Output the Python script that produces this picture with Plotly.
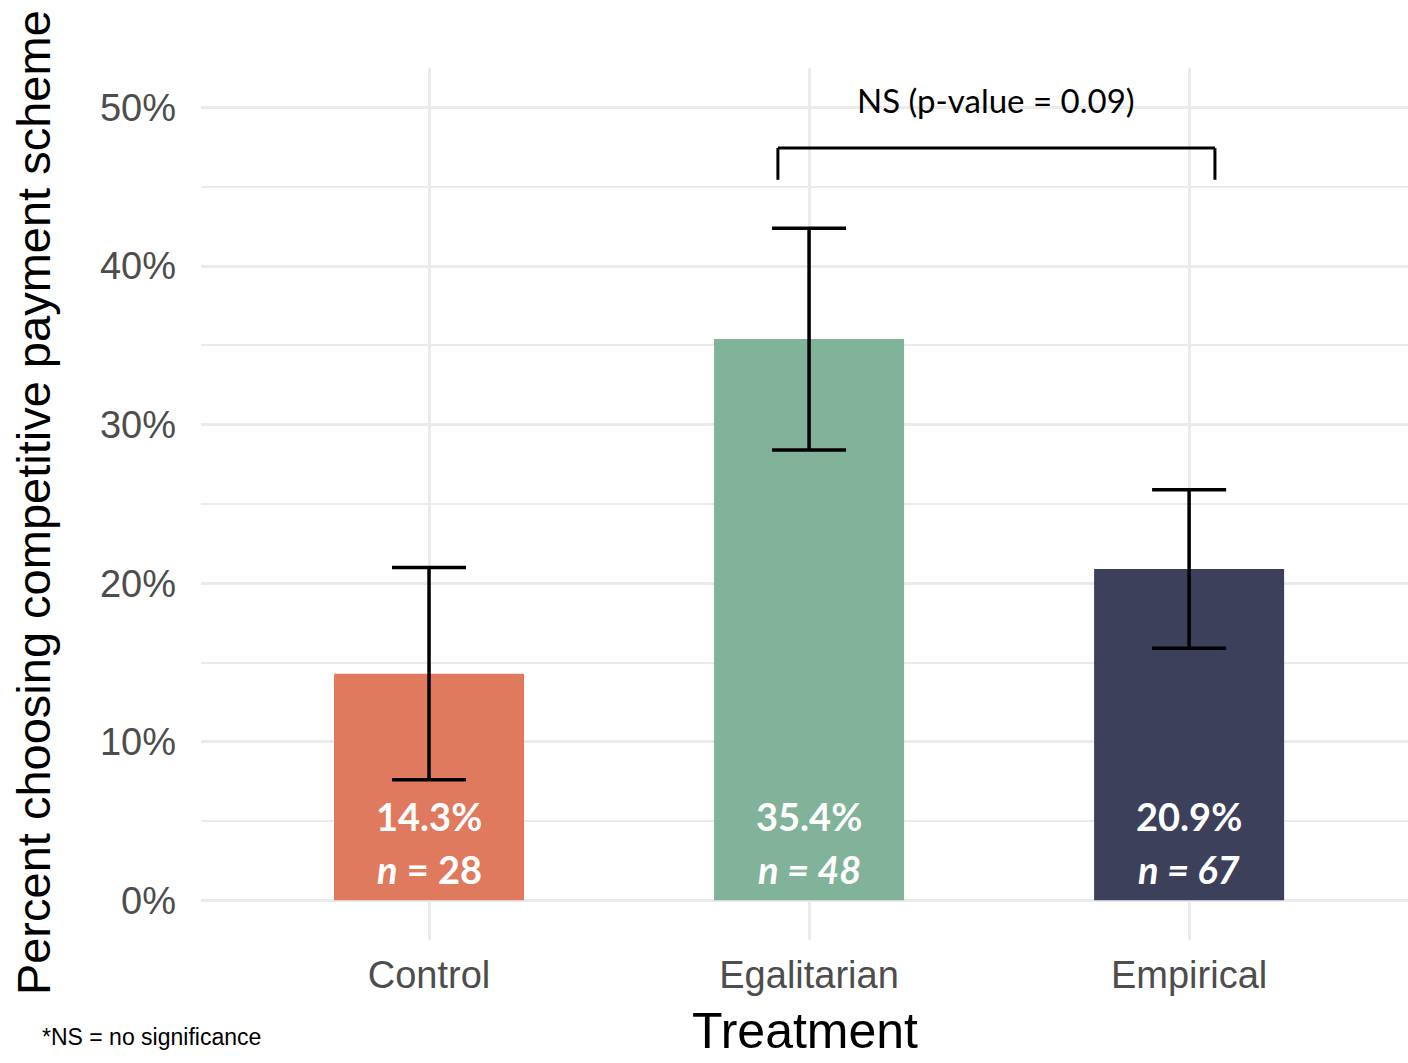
import plotly.graph_objects as go

# Share of participants choosing the competitive payment scheme, by treatment
treatments = ["Control", "Egalitarian", "Empirical"]
pct_competitive = [14.3, 35.4, 20.9]
ci_upper = [21.0, 42.4, 25.9]
ci_lower = [7.6, 28.4, 15.9]
n_obs = [28, 48, 67]
bar_colors = ["#E07A5F", "#81B29A", "#3D405B"]

# Bracket comparing Egalitarian vs Empirical
bracket_from, bracket_to = 0.918, 2.068
bracket_top, bracket_foot = 47.45, 45.45
bracket_label = "NS (p-value = 0.09)"

err_plus = [u - v for u, v in zip(ci_upper, pct_competitive)]
err_minus = [v - l for v, l in zip(pct_competitive, ci_lower)]

fig = go.Figure()
fig.add_trace(go.Bar(
    x=treatments,
    y=pct_competitive,
    width=0.5,
    marker=dict(color=bar_colors, line=dict(width=0)),
    error_y=dict(
        type="data",
        symmetric=False,
        array=err_plus,
        arrayminus=err_minus,
        color="black",
        thickness=3.5,
        width=37,
    ),
    showlegend=False,
    hoverinfo="skip",
))

label_font = dict(family="Lato, 'Open Sans', sans-serif", size=38, color="white")
for i, (cat, v, n) in enumerate(zip(treatments, pct_competitive, n_obs)):
    fig.add_annotation(x=cat, y=5.3, xref="x", yref="y",
                       text=f"<b>{v:.1f}%</b>", showarrow=False,
                       font=label_font, xanchor="center", yanchor="middle")
    n_text = f"<b><i>n</i> = {n}</b>" if i == 0 else f"<b><i>n = {n}</i></b>"
    fig.add_annotation(x=cat, y=1.95, xref="x", yref="y",
                       text=n_text, showarrow=False,
                       font=label_font, xanchor="center", yanchor="middle")

# Significance bracket
for x0, y0, x1, y1 in [
    (bracket_from, bracket_foot, bracket_from, bracket_top),
    (bracket_from, bracket_top, bracket_to, bracket_top),
    (bracket_to, bracket_top, bracket_to, bracket_foot),
]:
    fig.add_shape(type="line", xref="x", yref="y", x0=x0, y0=y0, x1=x1, y1=y1,
                  line=dict(color="black", width=3))
fig.add_annotation(x=(bracket_from + bracket_to) / 2, y=50.5, xref="x", yref="y",
                   text=bracket_label, showarrow=False,
                   font=dict(family="Lato, 'Open Sans', sans-serif", size=33, color="black"),
                   xanchor="center", yanchor="middle")

# Axis titles and footnote
fig.add_annotation(x=-0.1393, y=0.502, xref="paper", yref="paper",
                   text="Percent choosing competitive payment scheme", textangle=-90,
                   showarrow=False, xanchor="center", yanchor="middle",
                   font=dict(family="Liberation Sans, Arial, sans-serif", size=47, color="black"))
fig.add_annotation(x=0.5, y=-0.1388, xref="paper", yref="paper",
                   text="Treatment", showarrow=False, xanchor="center", yanchor="bottom",
                   font=dict(family="Liberation Sans, Arial, sans-serif", size=50, color="black"))
fig.add_annotation(x=-0.1334, y=-0.111, xref="paper", yref="paper",
                   text="*NS = no significance", showarrow=False, xanchor="left", yanchor="middle",
                   font=dict(family="Liberation Sans, Arial, sans-serif", size=23, color="black"))

tick_font = dict(family="Liberation Sans, Arial, sans-serif", size=38, color="#4d4d4d")
fig.update_xaxes(
    type="category",
    range=[-0.6, 2.576],
    showgrid=True, gridcolor="#ebebeb", gridwidth=2.5,
    showline=False, ticks="", zeroline=False,
    tickfont=tick_font, ticklabelstandoff=9,
)
fig.update_yaxes(
    range=[-2.5, 52.5],
    tickmode="array", tickvals=[0, 10, 20, 30, 40, 50],
    ticktext=["0%", "10%", "20%", "30%", "40%", "50%"],
    showgrid=True, gridcolor="#ebebeb", gridwidth=2.5,
    minor=dict(tickmode="array", tickvals=[5, 15, 25, 35, 45], showgrid=True,
               gridcolor="#ebebeb", gridwidth=2.2, ticks=""),
    showline=False, ticks="", zeroline=False,
    tickfont=tick_font, ticklabelstandoff=24,
)

fig.update_layout(
    width=1408, height=1063,
    margin=dict(l=201, r=0, t=68, b=123, autoexpand=False),
    plot_bgcolor="white", paper_bgcolor="white",
    bargap=0.5,
)

fig.write_html("out.html")
